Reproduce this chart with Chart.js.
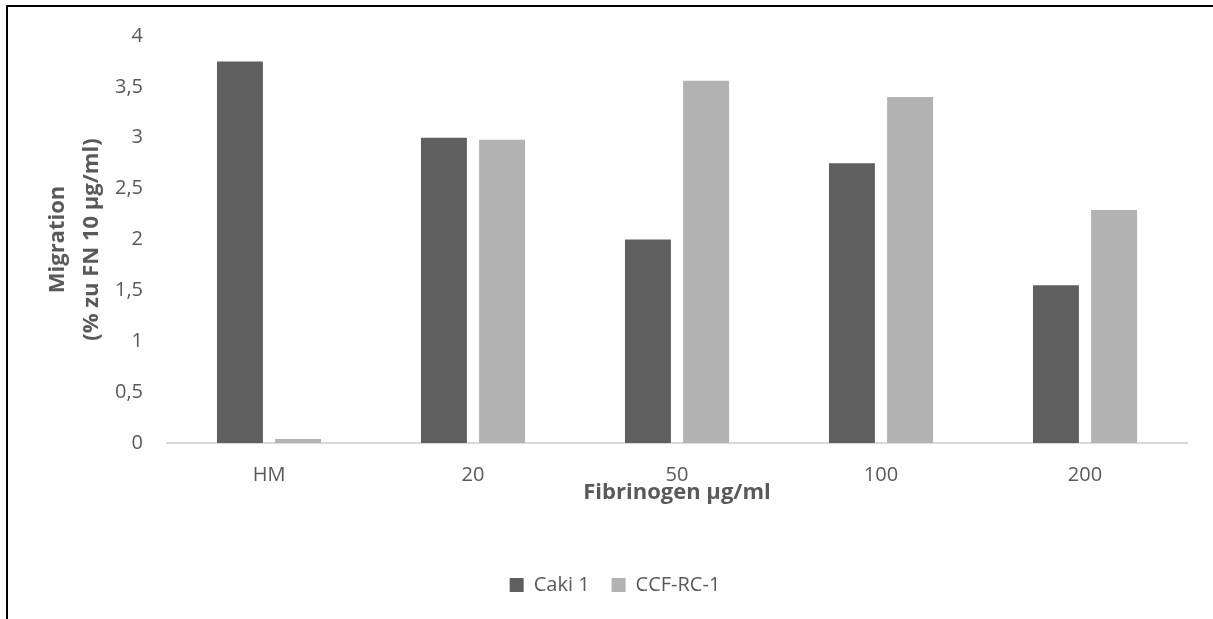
<!DOCTYPE html>
<html>
<head>
<meta charset="utf-8">
<script src="https://cdn.jsdelivr.net/npm/chart.js@4"></script>
<style>
    html, body { margin: 0; padding: 0; background: #fff; overflow: hidden; }
    body { width: 1213px; height: 619px; position: relative; }
    #rahmen {
        position: absolute; left: 6px; top: 5px;
        width: 1260px; height: 660px;
        border-top: 2px solid #000; border-left: 2px solid #000;
    }
    #wrap { position: absolute; left: 0; top: 0; width: 1230px; height: 619px; }
</style>
</head>
<body>
<div id="rahmen"></div>
<div id="wrap"><canvas id="grafico"></canvas></div>
<script>
// Fibrinogen-Konzentrationen (HM = Hungermedium)
const kategorien = ['HM', '20', '50', '100', '200'];
const caki1 = [3.75, 3.0, 2.0, 2.75, 1.55];
const ccfRc1 = [0.04, 2.98, 3.56, 3.40, 2.29];
const yTicks = [0, 0.5, 1, 1.5, 2, 2.5, 3, 3.5, 4];

const schrift = "'Open Sans', 'Liberation Sans', sans-serif";
const grau = '#595959';

const ctx = document.getElementById('grafico').getContext('2d');
new Chart(ctx, {
    type: 'bar',
    data: {
        labels: kategorien,
        datasets: [
            { label: 'Caki 1', data: caki1, backgroundColor: '#5f5f5f', borderWidth: 0 },
            { label: 'CCF-RC-1', data: ccfRc1, backgroundColor: '#b2b2b2', borderWidth: 0 }
        ]
    },
    options: {
        responsive: true,
        maintainAspectRatio: false,
        animation: false,
        datasets: { bar: { categoryPercentage: 0.57, barPercentage: 0.79 } },
        // links 43 px, damit die Legende mittig unter dem ganzen Rahmen sitzt
        layout: { padding: { left: 43, right: 43, top: 34, bottom: 14 } },
        scales: {
            x: {
                grid: { display: false, drawTicks: false },
                border: { display: true, color: '#d9d9d9', width: 2 },
                ticks: { color: grau, padding: 20, font: { family: schrift, size: 20 } },
                title: {
                    display: true,
                    text: 'Fibrinogen µg/ml',
                    color: grau,
                    font: { family: schrift, size: 22, weight: 'bold' },
                    padding: { top: 0, bottom: 47 }
                },
                afterFit: (achse) => { achse.height = 110; }
            },
            y: {
                min: 0,
                max: 4,
                grid: { display: false, drawTicks: false },
                border: { display: false },
                afterBuildTicks: (achse) => { achse.ticks = yTicks.map(v => ({ value: v })); },
                ticks: {
                    color: grau,
                    padding: 24,
                    font: { family: schrift, size: 20 },
                    callback: (v) => String(v).replace('.', ',')
                },
                title: {
                    display: true,
                    text: ['Migration', '(% zu FN 10 µg/ml)'],
                    color: grau,
                    font: { family: schrift, size: 22, weight: 'bold', lineHeight: 1.55 },
                    padding: { top: -2.5, bottom: 0 }
                },
                afterFit: (achse) => { achse.width = 124; }
            }
        },
        plugins: {
            legend: {
                position: 'bottom',
                labels: {
                    color: grau,
                    boxWidth: 14,
                    boxHeight: 14,
                    padding: 22,
                    font: { family: schrift, size: 20 }
                }
            },
            tooltip: { enabled: false }
        }
    }
});
</script>
</body>
</html>
